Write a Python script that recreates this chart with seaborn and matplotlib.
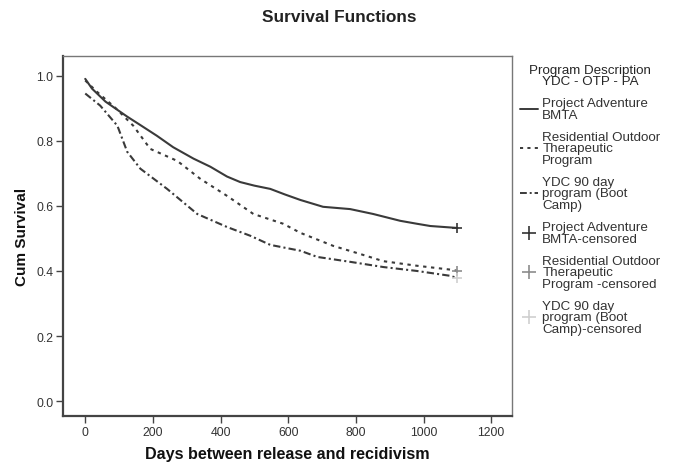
import matplotlib
matplotlib.use("Agg")
import matplotlib.pyplot as plt
from matplotlib.lines import Line2D
import numpy as np
import pandas as pd
import seaborn as sns

# values (days, cumulative survival)
pa_days = [0, 20, 60, 124, 160, 212, 260, 320, 370, 419, 458, 500, 547, 590, 636, 703, 783, 851, 931, 980, 1020, 1100]
pa_surv = [0.99, 0.96, 0.92, 0.874, 0.85, 0.815, 0.78, 0.745, 0.72, 0.69, 0.673, 0.662, 0.652, 0.635, 0.618, 0.597, 0.59, 0.575, 0.554, 0.545, 0.538, 0.532]

otp_days = [0, 35, 90, 142, 192, 272, 340, 420, 497, 585, 636, 733, 813, 881, 980, 1088, 1100]
otp_surv = [0.985, 0.95, 0.90, 0.846, 0.775, 0.738, 0.683, 0.63, 0.575, 0.545, 0.517, 0.477, 0.452, 0.43, 0.416, 0.403, 0.40]

ydc_days = [0, 44, 95, 124, 163, 242, 331, 419, 488, 547, 636, 686, 783, 881, 980, 1079, 1100]
ydc_surv = [0.945, 0.908, 0.846, 0.766, 0.714, 0.652, 0.575, 0.535, 0.508, 0.48, 0.462, 0.443, 0.428, 0.412, 0.40, 0.385, 0.378]

groups = ["Project Adventure\nBMTA", "Residential Outdoor\nTherapeutic\nProgram", "YDC 90 day\nprogram (Boot\nCamp)"]
censored = ["Project Adventure\nBMTA-censored", "Residential Outdoor\nTherapeutic\nProgram -censored", "YDC 90 day\nprogram (Boot\nCamp)-censored"]

df = pd.concat([
    pd.DataFrame({"days": pa_days, "surv": pa_surv, "group": groups[0]}),
    pd.DataFrame({"days": otp_days, "surv": otp_surv, "group": groups[1]}),
    pd.DataFrame({"days": ydc_days, "surv": ydc_surv, "group": groups[2]}),
])
ends = df.groupby("group", sort=False).tail(1)

sns.set_style("white")
plt.rcParams["font.family"] = ["Liberation Sans", "DejaVu Sans"]

fig = plt.figure(figsize=(6.73, 4.64), dpi=100)
ax = fig.add_axes([0.094, 0.101, 0.667, 0.776])

line_col = "#3a3a3a"
dashes = {groups[0]: "", groups[1]: (1.6, 2.2), groups[2]: (3.5, 1.5, 1, 1.5)}
sns.lineplot(data=df, x="days", y="surv", style="group", dashes=dashes,
             color=line_col, linewidth=1.5, ax=ax, legend=False, sort=False)

cens_cols = ["#333333", "#8c8c8c", "#cfcfcf"]
for (_, r), c in zip(ends.iterrows(), cens_cols):
    ax.plot(r["days"], r["surv"], marker="+", ms=7, mew=1.2, color=c, ls="none")

ax.set_xlim(-65, 1262)
ax.set_ylim(-0.046, 1.06)
ax.set_xticks(np.arange(0, 1201, 200))
ax.set_yticks(np.arange(0, 1.01, 0.2))
ax.yaxis.set_major_formatter(matplotlib.ticker.FormatStrFormatter("%.1f"))
ax.tick_params(axis="both", direction="out", length=5, width=1, color="#444444",
               labelsize=8.8, labelcolor="#333333", left=True, bottom=True, pad=2)
for s in ["left", "bottom"]:
    ax.spines[s].set_color("#444444")
    ax.spines[s].set_linewidth(1.6)
for s in ["top", "right"]:
    ax.spines[s].set_color("#777777")
    ax.spines[s].set_linewidth(1.0)

ax.set_xlabel("Days between release and recidivism", fontsize=11.6, fontweight="bold", color="#111111")
ax.set_ylabel("Cum Survival", fontsize=11, fontweight="bold", color="#111111")
ax.xaxis.set_label_coords(0.5, -0.082)
ax.yaxis.set_label_coords(-0.076, 0.5)
fig.text(0.504, 0.963, "Survival Functions", ha="center", va="center",
         fontsize=12.4, fontweight="bold", color="#222222")

handles = [
    Line2D([], [], color=line_col, lw=1.4, drawstyle="steps-mid"),
    Line2D([], [], color=line_col, lw=1.4, dashes=(1.6, 2.2)),
    Line2D([], [], color=line_col, lw=1.4, dashes=(3.5, 1.5, 1, 1.5)),
] + [Line2D([], [], color=c, marker="+", ms=10, mew=1.2, ls="none") for c in cens_cols]
leg = fig.legend(handles, groups + censored, title="Program Description\nYDC - OTP - PA",
                 loc="upper left", bbox_to_anchor=(0.764, 0.872), frameon=False,
                 fontsize=9.6, title_fontsize=9.6, handlelength=1.4, handletextpad=0.3,
                 labelspacing=0.75, borderaxespad=0)
leg.get_title().set_multialignment("center")
leg.get_title().set_linespacing(0.95)
for t in leg.get_texts():
    t.set_color("#333333")
    t.set_linespacing(0.95)

fig.savefig("out.png", dpi=100)
